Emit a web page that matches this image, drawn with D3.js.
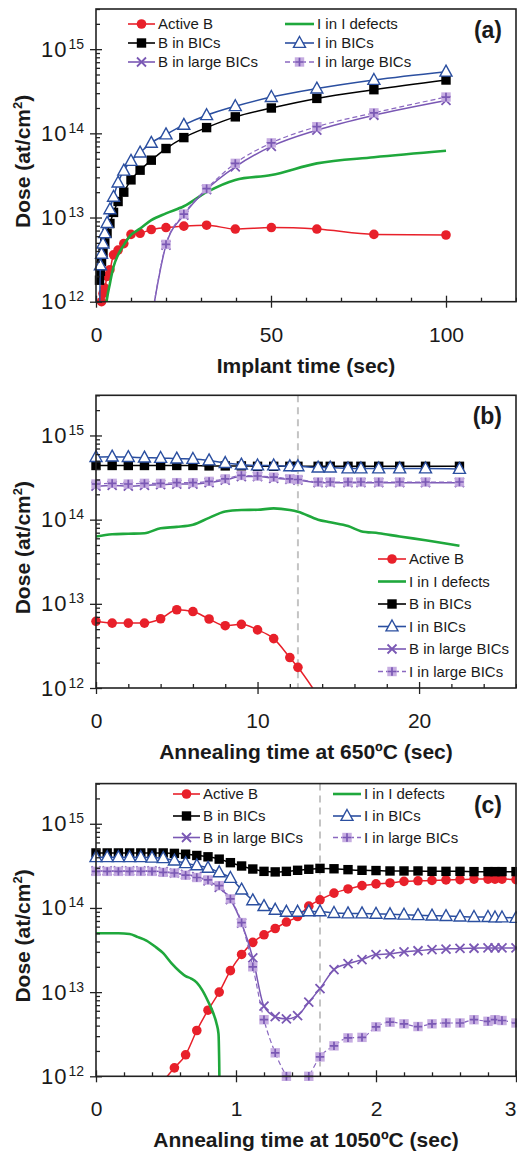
<!DOCTYPE html>
<html>
<head>
<meta charset="utf-8">
<script src="https://cdn.jsdelivr.net/npm/d3@7"></script>
<style>
  body { margin: 0; background: #fff; }
  svg { display: block; font-family: "Liberation Sans", Arial, Helvetica, sans-serif; }
</style>
</head>
<body>
<script>
// ---------- shared axis settings ----------
const doseDomain = [1e12, 3e15];
const doseTicks = [1e12, 1e13, 1e14, 1e15];
const doseTickExponents = ["12", "13", "14", "15"];
const seriesLabels = ["Active B", "I in I defects", "B in BICs", "I in BICs", "B in large BICs", "I in large BICs"];

// ---------- (a) implant ----------
const implantTime = [1.0, 1.26, 1.58, 2.0, 2.51, 3.16, 3.98, 5.01, 6.31, 7.94, 10.0, 12.6, 15.8, 20.0, 25.1, 31.6, 39.8, 50.1, 63.1, 79.4, 100];
const implantActiveB = [null, null, 1.0e12, 1.25e12, 1.45e12, 2.0e12, 2.4e12, 3.6e12, 4.1e12, 4.9e12, 6.3e12, 6.5e12, 7.2e12, 7.6e12, 7.9e12, 8.1e12, 7.3e12, 7.6e12, 7.3e12, 6.3e12, 6.2e12];
const implantIDefects = [null, null, null, null, 7e11, 1.1e12, 1.65e12, 2.6e12, 3.6e12, 4.7e12, 6.2e12, 7.4e12, 9.3e12, 1.12e13, 1.36e13, 2.0e13, 2.8e13, 3.2e13, 4.4e13, 5.2e13, 6.2e13];
const implantBBICs = [1.8e12, 2.3e12, 3.0e12, 3.8e12, 5.0e12, 6.5e12, 8.5e12, 1.15e13, 1.55e13, 2.0e13, 2.8e13, 3.65e13, 4.8e13, 6.6e13, 8.9e13, 1.17e14, 1.57e14, 2.0e14, 2.6e14, 3.3e14, 4.3e14];
const implantIBICs = [5e11, 2.7e12, 3.7e12, 4.9e12, 6.5e12, 8.6e12, 1.25e13, 1.76e13, 2.6e13, 3.6e13, 4.7e13, 5.9e13, 7.7e13, 9.7e13, 1.26e14, 1.64e14, 2.1e14, 2.7e14, 3.4e14, 4.3e14, 5.4e14];
const implantBLarge = [null, null, null, null, null, null, null, null, null, null, null, null, 6e11, 4.7e12, 1.07e13, 2.15e13, 4.0e13, 7.0e13, 1.09e14, 1.64e14, 2.46e14];
const implantILarge = [null, null, null, null, null, null, null, null, null, null, null, null, 6e11, 4.8e12, 1.1e13, 2.2e13, 4.4e13, 7.7e13, 1.2e14, 1.75e14, 2.7e14];
const implantXTicks = [0, 50, 100];

// ---------- (b) anneal 650 C ----------
const anneal650Time = [0, 1, 2, 3, 4, 5, 6, 7, 8, 9, 10, 11, 12, 12.5, 13.75, 14.5, 15.6, 16.4, 17.5, 18.8, 20.4, 22.5];
const anneal650ActiveB = [6.2e12, 5.9e12, 5.9e12, 5.9e12, 6.65e12, 8.5e12, 8.1e12, 6.6e12, 5.5e12, 5.7e12, 4.9e12, 3.86e12, 2.3e12, 1.76e12, 8e11, null, null, null, null, null, null, null];
const anneal650IDefects = [6.3e13, 6.7e13, 6.8e13, 6.9e13, 7.9e13, 8.2e13, 8.7e13, 1.05e14, 1.25e14, 1.3e14, 1.31e14, 1.36e14, 1.3e14, 1.24e14, 1.0e14, 9.3e13, 8.4e13, 7.3e13, 6.9e13, 6.3e13, 5.7e13, 4.9e13];
const anneal650BBICs = [4.4e14, 4.4e14, 4.4e14, 4.4e14, 4.4e14, 4.4e14, 4.4e14, 4.35e14, 4.35e14, 4.35e14, 4.3e14, 4.3e14, 4.3e14, 4.3e14, 4.3e14, 4.3e14, 4.3e14, 4.3e14, 4.3e14, 4.3e14, 4.3e14, 4.3e14];
const anneal650IBICs = [5.53e14, 5.6e14, 5.53e14, 5.45e14, 5.4e14, 5.3e14, 5.25e14, 5.05e14, 4.7e14, 4.5e14, 4.4e14, 4.4e14, 4.3e14, 4.3e14, 4.15e14, 4.15e14, 4.05e14, 4.05e14, 4.05e14, 4.05e14, 4.05e14, 4.0e14];
const anneal650BLarge = [2.5e14, 2.55e14, 2.5e14, 2.55e14, 2.6e14, 2.65e14, 2.65e14, 2.75e14, 2.95e14, 3.25e14, 3.25e14, 3.1e14, 3.0e14, 2.95e14, 2.75e14, 2.75e14, 2.75e14, 2.75e14, 2.75e14, 2.75e14, 2.75e14, 2.75e14];
const anneal650ILarge = [2.65e14, 2.7e14, 2.65e14, 2.7e14, 2.7e14, 2.75e14, 2.75e14, 2.85e14, 3.05e14, 3.35e14, 3.3e14, 3.2e14, 3.05e14, 3.0e14, 2.8e14, 2.8e14, 2.8e14, 2.8e14, 2.8e14, 2.8e14, 2.8e14, 2.8e14];
const anneal650XTicks = [0, 10, 20];
const anneal650Marker = 12.5;

// ---------- (c) anneal 1050 C ----------
const anneal1050Time = [0, 0.08, 0.16, 0.24, 0.32, 0.40, 0.48, 0.56, 0.64, 0.72, 0.80, 0.88, 0.96, 1.04, 1.12, 1.20, 1.28, 1.36, 1.44, 1.52, 1.60, 1.70, 1.80, 1.90, 2.0, 2.1, 2.2, 2.3, 2.4, 2.5, 2.6, 2.7, 2.8, 2.85, 2.9, 3.0];
const anneal1050ActiveB = [null, null, null, null, null, null, 8.8e11, 1.26e12, 1.8e12, 3.5e12, 6.1e12, 1.0e13, 1.8e13, 2.8e13, 3.9e13, 4.8e13, 5.7e13, 6.8e13, 7.9e13, 1.05e14, 1.25e14, 1.5e14, 1.68e14, 1.84e14, 1.93e14, 1.98e14, 2.07e14, 2.1e14, 2.12e14, 2.15e14, 2.17e14, 2.2e14, 2.2e14, 2.2e14, 2.2e14, 2.17e14];
const anneal1050BBICs = [4.5e14, 4.5e14, 4.5e14, 4.5e14, 4.5e14, 4.5e14, 4.5e14, 4.45e14, 4.35e14, 4.2e14, 4.05e14, 3.8e14, 3.45e14, 3.15e14, 2.9e14, 2.72e14, 2.68e14, 2.72e14, 2.8e14, 2.88e14, 2.95e14, 2.92e14, 2.85e14, 2.8e14, 2.78e14, 2.75e14, 2.75e14, 2.75e14, 2.72e14, 2.72e14, 2.72e14, 2.7e14, 2.7e14, 2.7e14, 2.7e14, 2.7e14];
const anneal1050IBICs = [4.0e14, 4.0e14, 4.0e14, 4.0e14, 4.0e14, 3.95e14, 3.9e14, 3.65e14, 3.4e14, 3.2e14, 2.99e14, 2.65e14, 2.27e14, 1.65e14, 1.23e14, 1.05e14, 9.5e13, 9.0e13, 9.0e13, 9.1e13, 9.1e13, 8.7e13, 8.6e13, 8.6e13, 8.5e13, 8.4e13, 8.3e13, 8.2e13, 8.1e13, 8.0e13, 7.9e13, 7.8e13, 7.8e13, 7.7e13, 7.7e13, 7.6e13];
const anneal1050BLarge = [2.75e14, 2.75e14, 2.75e14, 2.75e14, 2.75e14, 2.75e14, 2.7e14, 2.6e14, 2.5e14, 2.35e14, 2.1e14, 1.75e14, 1.26e14, 6.6e13, 2.55e13, 6.8e12, 5.1e12, 4.8e12, 5.25e12, 7.6e12, 1.1e13, 1.85e13, 2.18e13, 2.43e13, 2.79e13, 2.85e13, 3.0e13, 3.1e13, 3.2e13, 3.25e13, 3.3e13, 3.32e13, 3.35e13, 3.35e13, 3.35e13, 3.35e13];
const anneal1050ILarge = [2.72e14, 2.72e14, 2.72e14, 2.72e14, 2.72e14, 2.72e14, 2.65e14, 2.6e14, 2.45e14, 2.3e14, 2.15e14, 1.84e14, 1.28e14, 6.7e13, 2.0e13, 4.7e12, 1.9e12, 1.0e12, 6e11, 1.0e12, 1.7e12, 2.3e12, 2.86e12, 2.9e12, 3.87e12, 4.4e12, 4.2e12, 3.9e12, 4.2e12, 4.3e12, 4.3e12, 4.7e12, 4.5e12, 4.7e12, 4.6e12, 4.3e12];
const anneal1050DefectTime = [0, 0.08, 0.16, 0.24, 0.30, 0.36, 0.42, 0.48, 0.54, 0.60, 0.64, 0.68, 0.72, 0.76, 0.80, 0.84, 0.86, 0.875, 0.88, 0.885];
const anneal1050IDefects = [5.0e13, 5.0e13, 5.0e13, 4.9e13, 4.5e13, 4.1e13, 3.5e13, 2.9e13, 2.2e13, 1.75e13, 1.55e13, 1.45e13, 1.3e13, 1.05e13, 7.8e12, 5.5e12, 4.3e12, 3.2e12, 1.5e12, 3e11];
const anneal1050XTicks = [0, 1, 2, 3];
const anneal1050Marker = 1.6;

// ---------- styles of the six series ----------
const seriesStyles = [
  { color: "#e8202a", marker: "circle", width: 1.5, dash: null },
  { color: "#1fa83c", marker: null, width: 2.6, dash: null },
  { color: "#000000", marker: "square", width: 1.5, dash: null },
  { color: "#2b4fa0", marker: "triangle", width: 1.5, dash: null },
  { color: "#7a58b4", marker: "cross", width: 1.5, dash: null },
  { color: "#8a68c0", marker: "plusSquare", width: 1.2, dash: "5,3" }
];

const W = 517, H = 1152;
const plotLeft = 96, plotRight = 516, plotH = 292.7;

const svg = d3.select("body").append("svg").attr("width", W).attr("height", H);

function drawMarker(g, kind, color, cx, cy) {
  if (kind === "circle") {
    g.append("circle").attr("cx", cx).attr("cy", cy).attr("r", 4.8).attr("fill", color);
  } else if (kind === "square") {
    g.append("rect").attr("x", cx - 4.7).attr("y", cy - 4.7).attr("width", 9.4).attr("height", 9.4).attr("fill", color);
  } else if (kind === "triangle") {
    g.append("path").attr("d", `M${cx},${cy - 6.5}L${cx + 6},${cy + 4.4}L${cx - 6},${cy + 4.4}Z`)
      .attr("fill", "#fff").attr("stroke", color).attr("stroke-width", 1.4).attr("stroke-linejoin", "miter");
  } else if (kind === "cross") {
    const s = 4.5;
    g.append("path").attr("d", `M${cx - s},${cy - s}L${cx + s},${cy + s}M${cx - s},${cy + s}L${cx + s},${cy - s}`)
      .attr("stroke", color).attr("stroke-width", 1.8).attr("fill", "none");
  } else if (kind === "plusSquare") {
    g.append("rect").attr("x", cx - 4.7).attr("y", cy - 4.7).attr("width", 9.4).attr("height", 9.4)
      .attr("fill", "#c3a9df").attr("opacity", 0.95);
    g.append("path").attr("d", `M${cx - 4.2},${cy}L${cx + 4.2},${cy}M${cx},${cy - 4.2}L${cx},${cy + 4.2}`)
      .attr("stroke", "#7a58b4").attr("stroke-width", 1.7).attr("fill", "none");
  }
}

function drawPanel(cfg) {
  const top = cfg.top, bottom = top + plotH;
  const g = svg.append("g");
  const x = d3.scaleLinear().domain([0, cfg.xMax]).range([plotLeft, plotRight]);
  const y = d3.scaleLog().domain(doseDomain).range([bottom, top]);

  const clipId = "clip-" + cfg.id;
  svg.append("clipPath").attr("id", clipId)
    .append("rect").attr("x", plotLeft).attr("y", top).attr("width", plotRight - plotLeft).attr("height", plotH);

  // vertical reference line
  if (cfg.marker != null) {
    g.append("line").attr("x1", x(cfg.marker)).attr("x2", x(cfg.marker)).attr("y1", top).attr("y2", bottom)
      .attr("stroke", "#c4c4c4").attr("stroke-width", 2).attr("stroke-dasharray", "7,5");
  }

  // series
  cfg.series.forEach((s, i) => {
    const st = seriesStyles[i];
    const pts = s.t.map((t, k) => ({ t, v: s.v[k] }));
    const line = d3.line().defined(d => d.v != null)
      .x(d => x(d.t)).y(d => y(d.v)).curve(d3.curveMonotoneX);
    g.append("path").datum(pts).attr("d", line).attr("clip-path", `url(#${clipId})`)
      .attr("fill", "none").attr("stroke", st.color).attr("stroke-width", st.width)
      .attr("stroke-dasharray", st.dash).attr("stroke-linejoin", "round");
    if (st.marker) {
      const mg = g.append("g");
      pts.filter(d => d.v != null && d.v >= doseDomain[0] * 0.98 && d.t <= cfg.xMax)
        .forEach(d => drawMarker(mg, st.marker, st.color, x(d.t), y(d.v)));
    }
  });

  // axes
  const axisColor = "#222";
  const minorX = d3.range(0, cfg.xMax + 1e-9, cfg.xMinor).filter(v => !cfg.xTicks.some(t => Math.abs(t - v) < 1e-9));
  const minorY = [];
  for (let e = 12; e <= 15; e++) for (let m = 2; m <= 9; m++) { const v = m * Math.pow(10, e); if (v <= doseDomain[1]) minorY.push(v); }

  const gx = g.append("g").attr("transform", `translate(0,${bottom})`)
    .call(d3.axisBottom(x).tickValues(cfg.xTicks).tickSize(6).tickSizeOuter(0).tickPadding(19).tickFormat(d3.format("d")));
  gx.selectAll(".tick line").attr("y1", -6);
  // a label sitting on the right frame edge is kept inside the page
  gx.selectAll(".tick text").filter(d => x(d) > W - 8).attr("text-anchor", "end").attr("dx", 0);
  const gxm = g.append("g").attr("transform", `translate(0,${bottom})`)
    .call(d3.axisBottom(x).tickValues(minorX).tickSize(-4).tickSizeOuter(0).tickFormat(""));

  const gy = g.append("g").attr("transform", `translate(${plotLeft},0)`)
    .call(d3.axisLeft(y).tickValues(doseTicks).tickSize(6).tickSizeOuter(0).tickPadding(6).tickFormat(() => "10"));
  gy.selectAll(".tick line").attr("x1", 6);
  gy.selectAll(".tick text").each(function (d, i) {
    d3.select(this).append("tspan").attr("dy", "-8").attr("dx", 1).text(doseTickExponents[i]);
  });
  const gym = g.append("g").attr("transform", `translate(${plotLeft},0)`)
    .call(d3.axisLeft(y).tickValues(minorY).tickSize(-4).tickSizeOuter(0).tickFormat(""));

  [gx, gxm, gy, gym].forEach(a => {
    a.select(".domain").remove();
    a.attr("font-family", null).attr("font-size", null);
    a.selectAll(".tick line").attr("stroke", axisColor).attr("stroke-width", 1.3);
    a.selectAll(".tick text").attr("fill", "#1a1a1a").attr("font-size", 21);
  });
  gy.selectAll(".tick text").attr("font-size", 22).attr("letter-spacing", 1);
  gy.selectAll(".tick text tspan").attr("font-size", 14).attr("letter-spacing", 0);

  // frame
  g.append("rect").attr("x", plotLeft).attr("y", top).attr("width", plotRight - plotLeft).attr("height", plotH)
    .attr("fill", "none").attr("stroke", axisColor).attr("stroke-width", 1.6);

  // axis titles
  g.append("text").attr("x", (plotLeft + plotRight) / 2).attr("y", bottom + 71)
    .attr("text-anchor", "middle").attr("font-weight", "bold").attr("font-size", 21).attr("fill", "#1a1a1a")
    .text(cfg.xTitle);
  const yt = g.append("text").attr("transform", `translate(30,${(top + bottom) / 2 + 6}) rotate(-90)`)
    .attr("text-anchor", "middle").attr("font-weight", "bold").attr("font-size", 21).attr("fill", "#1a1a1a");
  yt.append("tspan").text("Dose (at/cm");
  yt.append("tspan").attr("dy", -8).attr("font-size", 13).text("2");
  yt.append("tspan").attr("dy", 8).text(")");

  // panel tag
  g.append("text").attr("x", 502).attr("y", top + 29).attr("text-anchor", "end")
    .attr("font-weight", "bold").attr("font-size", 23).attr("fill", "#1a1a1a").text(cfg.tag);

  // legend
  const lg = g.append("g");
  cfg.legend.forEach(item => {
    const st = seriesStyles[item.s];
    lg.append("line").attr("x1", item.x1).attr("x2", item.x2).attr("y1", item.y).attr("y2", item.y)
      .attr("stroke", st.color).attr("stroke-width", st.marker ? 1.6 : 2.6).attr("stroke-dasharray", st.dash);
    if (st.marker) drawMarker(lg, st.marker, st.color, (item.x1 + item.x2) / 2, item.y);
    lg.append("text").attr("x", item.x2 + 3).attr("y", item.y).attr("dy", "0.36em")
      .attr("font-size", 15).attr("fill", "#1a1a1a").text(seriesLabels[item.s]);
  });
}

// (a)
drawPanel({
  id: "a", top: 9, xMax: 120, xMinor: 10, xTicks: implantXTicks, tag: "(a)", marker: null,
  xTitle: "Implant time (sec)",
  series: [
    { t: implantTime, v: implantActiveB },
    { t: implantTime, v: implantIDefects },
    { t: implantTime, v: implantBBICs },
    { t: implantTime, v: implantIBICs },
    { t: implantTime, v: implantBLarge },
    { t: implantTime, v: implantILarge }
  ],
  legend: [
    { s: 0, x1: 128, x2: 155, y: 24 }, { s: 2, x1: 128, x2: 155, y: 43 }, { s: 4, x1: 128, x2: 155, y: 62 },
    { s: 1, x1: 285, x2: 314, y: 24 }, { s: 3, x1: 285, x2: 314, y: 43 }, { s: 5, x1: 285, x2: 314, y: 62 }
  ]
});

// (b)
drawPanel({
  id: "b", top: 395.3, xMax: 26, xMinor: 2, xTicks: anneal650XTicks, tag: "(b)", marker: anneal650Marker,
  xTitle: "Annealing time at 650ºC (sec)",
  series: [
    { t: anneal650Time, v: anneal650ActiveB },
    { t: anneal650Time, v: anneal650IDefects },
    { t: anneal650Time, v: anneal650BBICs },
    { t: anneal650Time, v: anneal650IBICs },
    { t: anneal650Time, v: anneal650BLarge },
    { t: anneal650Time, v: anneal650ILarge }
  ],
  legend: [0, 1, 2, 3, 4, 5].map(k => ({ s: k, x1: 378, x2: 406, y: 559 + k * 22.5 }))
});

// (c)
drawPanel({
  id: "c", top: 783.6, xMax: 3, xMinor: 0.2, xTicks: anneal1050XTicks, tag: "(c)", marker: anneal1050Marker,
  xTitle: "Annealing time at 1050ºC (sec)",
  series: [
    { t: anneal1050Time, v: anneal1050ActiveB },
    { t: anneal1050DefectTime, v: anneal1050IDefects },
    { t: anneal1050Time, v: anneal1050BBICs },
    { t: anneal1050Time, v: anneal1050IBICs },
    { t: anneal1050Time, v: anneal1050BLarge },
    { t: anneal1050Time, v: anneal1050ILarge }
  ],
  legend: [
    { s: 0, x1: 173, x2: 200, y: 794 }, { s: 2, x1: 173, x2: 200, y: 816 }, { s: 4, x1: 173, x2: 200, y: 837.5 },
    { s: 1, x1: 333, x2: 361, y: 794 }, { s: 3, x1: 333, x2: 361, y: 816 }, { s: 5, x1: 333, x2: 361, y: 837.5 }
  ]
});
</script>
</body>
</html>
